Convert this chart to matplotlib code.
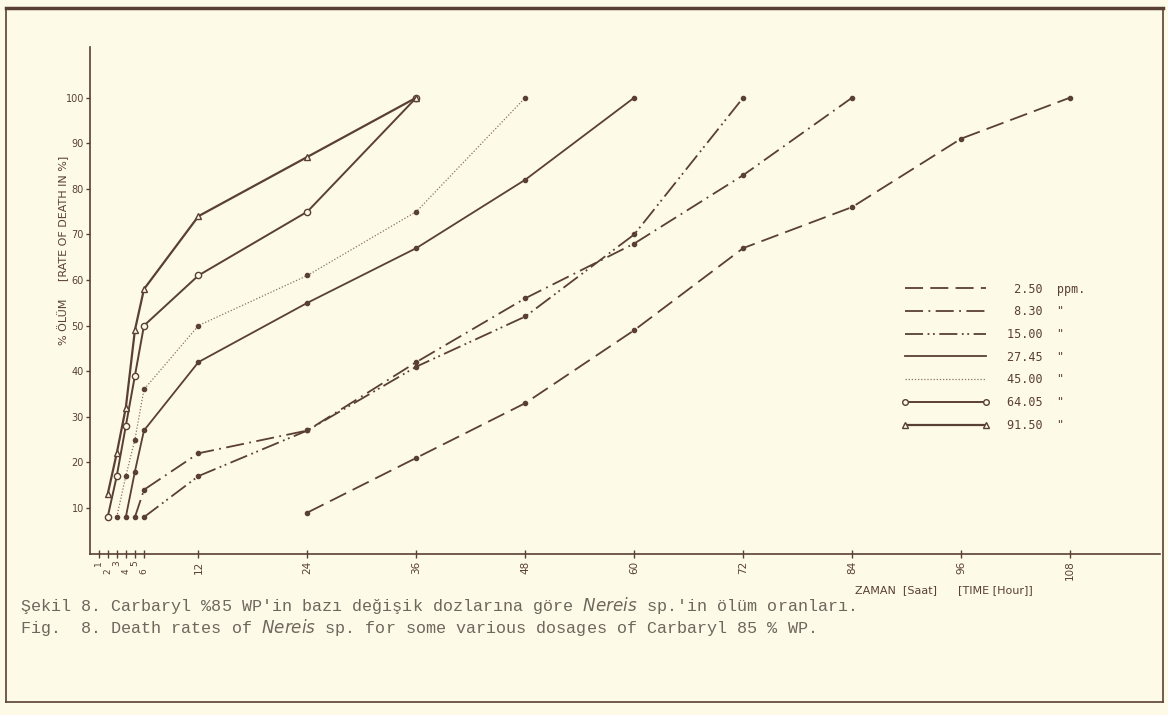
import matplotlib.pyplot as plt
from matplotlib.lines import Line2D

# Death rate (%) of Nereis sp. vs. time (hours) for each Carbaryl dose
hours_250 = [24, 36, 48, 60, 72, 84, 96, 108]
death_250 = [9, 21, 33, 49, 67, 76, 91, 100]

hours_830 = [5, 6, 12, 24, 36, 48, 60, 72, 84]
death_830 = [8, 14, 22, 27, 42, 56, 68, 83, 100]

hours_1500 = [6, 12, 24, 36, 48, 60, 72]
death_1500 = [8, 17, 27, 41, 52, 70, 100]

hours_2745 = [4, 5, 6, 12, 24, 36, 48, 60]
death_2745 = [8, 18, 27, 42, 55, 67, 82, 100]

hours_4500 = [3, 4, 5, 6, 12, 24, 36, 48]
death_4500 = [8, 17, 25, 36, 50, 61, 75, 100]

hours_6405 = [2, 3, 4, 5, 6, 12, 24, 36]
death_6405 = [8, 17, 28, 39, 50, 61, 75, 100]

hours_9150 = [2, 3, 4, 5, 6, 12, 24, 36]
death_9150 = [13, 22, 32, 49, 58, 74, 87, 100]

dose_labels = ['2.50', '8.30', '15.00', '27.45', '45.00', '64.05', '91.50']
dose_units = ['ppm.', '"', '"', '"', '"', '"', '"']
x_ticks = [1, 2, 3, 4, 5, 6, 12, 24, 36, 48, 60, 72, 84, 96, 108]
y_ticks = [10, 20, 30, 40, 50, 60, 70, 80, 90, 100]

bg = '#fdfbe7'
ink = '#5a3f35'
light = '#8a7163'

fig = plt.figure(figsize=(11.68, 7.15), dpi=100, facecolor=bg)
ax = fig.add_axes([89.5 / 1168, 1 - 553.6 / 715, (1160 - 89.5) / 1168, (553.6 - 47) / 715])
ax.set_facecolor(bg)

series = [
    (hours_250, death_250, dict(ls=(0, (10, 4)), lw=1.3, color=ink, marker='o', ms=3)),
    (hours_830, death_830, dict(ls=(0, (10, 3, 1, 3)), lw=1.3, color=ink, marker='o', ms=3)),
    (hours_1500, death_1500, dict(ls=(0, (10, 2.5, 1, 2, 1, 2.5)), lw=1.3, color=ink, marker='o', ms=3)),
    (hours_2745, death_2745, dict(ls='-', lw=1.3, color=ink, marker='o', ms=3)),
    (hours_4500, death_4500, dict(ls=(0, (1, 1.5)), lw=0.9, color=light, marker='o', ms=3, mec=ink, mfc=ink)),
    (hours_6405, death_6405, dict(ls='-', lw=1.4, color=ink, marker='o', ms=4.5, mfc=bg, mec=ink, mew=1)),
    (hours_9150, death_9150, dict(ls='-', lw=1.6, color=ink, marker='^', ms=5, mfc=bg, mec=ink, mew=1)),
]

handles = []
for (h, d, style), lab, unit in zip(series, dose_labels, dose_units):
    ax.plot(h, d, **style)
    leg_style = dict(style)
    if leg_style.get('marker') == 'o' and leg_style.get('mfc') != bg:
        leg_style['marker'] = None
    handles.append(Line2D([], [], **leg_style))

labels = [f'{lab:>5}  {unit}' for lab, unit in zip(dose_labels, dose_units)]
leg = ax.legend(handles, labels, loc='upper left', bbox_to_anchor=(0.749, 0.556),
                frameon=False, fontsize=8.5, handlelength=7.4, handletextpad=1.5,
                labelspacing=0.82, markerscale=0.9, numpoints=2)
for t in leg.get_texts():
    t.set_color(ink)
    t.set_family('DejaVu Sans Mono')

ax.set_xlim(0, 117.9)
ax.set_ylim(0, 111.1)
ax.spines['top'].set_visible(False)
ax.spines['right'].set_visible(False)
for s in ['left', 'bottom']:
    ax.spines[s].set_color(ink)
    ax.spines[s].set_linewidth(1.2)

ax.set_yticks(y_ticks)
ax.set_yticklabels([str(v) for v in y_ticks], fontsize=7, color=ink)
ax.tick_params(axis='y', direction='out', length=3, width=1, color=ink, pad=1)
ax.set_xticks(x_ticks)
ax.set_xticklabels([str(v) for v in x_ticks], fontsize=7.5, color=ink, rotation=90)
ax.tick_params(axis='x', direction='inout', length=6, width=1, color=ink, pad=2)
for i, t in enumerate(ax.get_xticklabels()[:6]):
    t.set_fontsize(6.5)
    if i % 2 == 1:
        t.set_y(-0.015)

fig.text(63 / 1168, 1 - 250 / 715, '% ÖLÜM     [RATE OF DEATH IN %]',
         rotation=90, ha='center', va='center', fontsize=8, color=ink)
fig.text(855 / 1168, 1 - 590 / 715, 'ZAMAN  [Saat]      [TIME [Hour]]',
         fontsize=8, color=ink, va='center')

cap_color = '#6f665e'
fig.text(20 / 1168, 1 - 605 / 715,
         "Şekil 8. Carbaryl %85 WP'in bazı değişik dozlarına göre $\\it{Nereis}$ sp.'in ölüm oranları.",
         family='Liberation Mono', fontsize=12.1, color=cap_color, va='center')
fig.text(20 / 1168, 1 - 628 / 715,
         "Fig.  8. Death rates of $\\it{Nereis}$ sp. for some various dosages of Carbaryl 85 % WP.",
         family='Liberation Mono', fontsize=12.1, color=cap_color, va='center')

# scanned page frame
frame = dict(transform=fig.transFigure, color=ink)
fig.add_artist(Line2D([6 / 1168, 1163 / 1168], [1 - 8 / 715, 1 - 8 / 715], lw=2.5, **frame))
fig.add_artist(Line2D([6 / 1168, 6 / 1168], [1 - 8 / 715, 1 - 702 / 715], lw=1.2, **frame))
fig.add_artist(Line2D([1163 / 1168, 1163 / 1168], [1 - 8 / 715, 1 - 702 / 715], lw=1.2, **frame))
fig.add_artist(Line2D([6 / 1168, 1163 / 1168], [1 - 702 / 715, 1 - 702 / 715], lw=1.2, **frame))

fig.savefig('out.png', dpi=100, facecolor=bg)
